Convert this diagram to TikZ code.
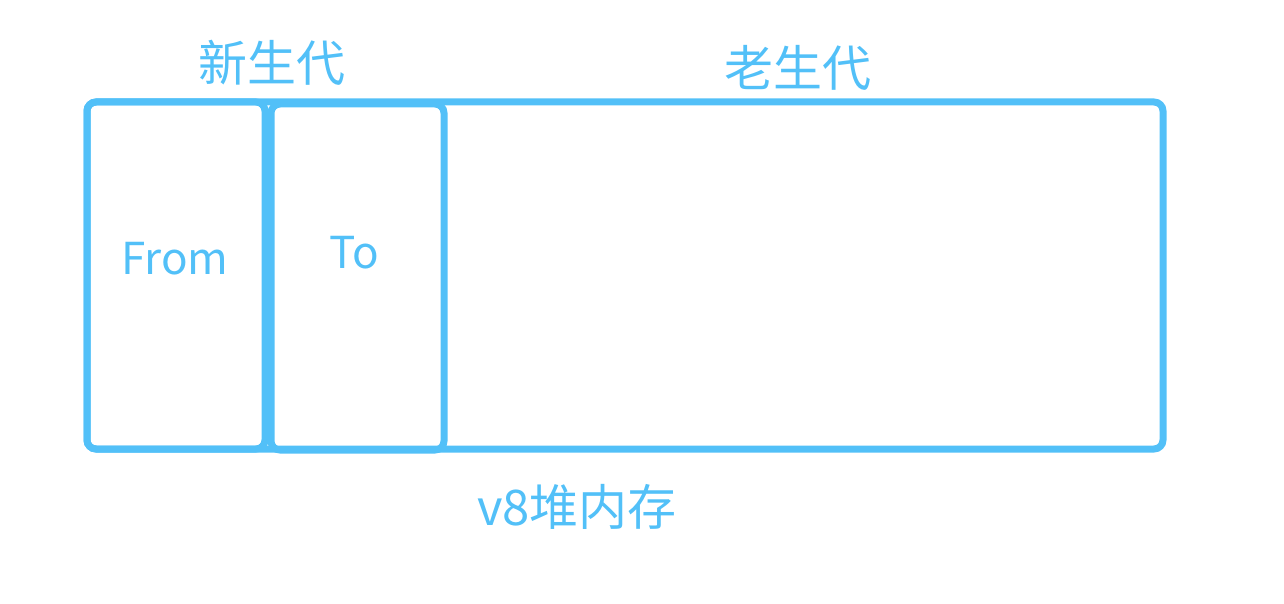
\documentclass[tikz,border=0pt]{standalone}
\usepackage{fontspec}
\setmainfont{Noto Sans CJK SC}
\usetikzlibrary{positioning}
\definecolor{heapblue}{RGB}{82,192,248}

\begin{document}
\begin{tikzpicture}[x=1pt,y=-1pt,
            area/.style={draw=heapblue,line width=7pt,rounded corners=9pt,inner sep=0pt},
            tag/.style={text=heapblue,font=\fontsize{49}{53}\selectfont,inner sep=0pt},
            spacetag/.style={tag,font=\fontsize{44}{48}\selectfont}]

        \useasboundingbox (0,0) rectangle (1284,604);

        % heap and the two semispaces
        \node[area,minimum width=1076pt,minimum height=347pt] (heap) at (625,275.5) {};
        \node[area,minimum width=178pt,minimum height=347pt] (from) at (176,275.5) {};
        \node[area,minimum width=173pt,minimum height=346pt] (to) at (357.5,277) {};

        \node[spacetag] (fromtxt) at (175,259) {From};
        \node[spacetag] (totxt) at (354,253) {To};

        \node[tag] (young) at (272,63) {新生代};
        \node[tag] (old) at (798,68) {老生代};
        \node[tag] (v8) at (577,507) {v8堆内存};

    \end{tikzpicture}
\end{document}
